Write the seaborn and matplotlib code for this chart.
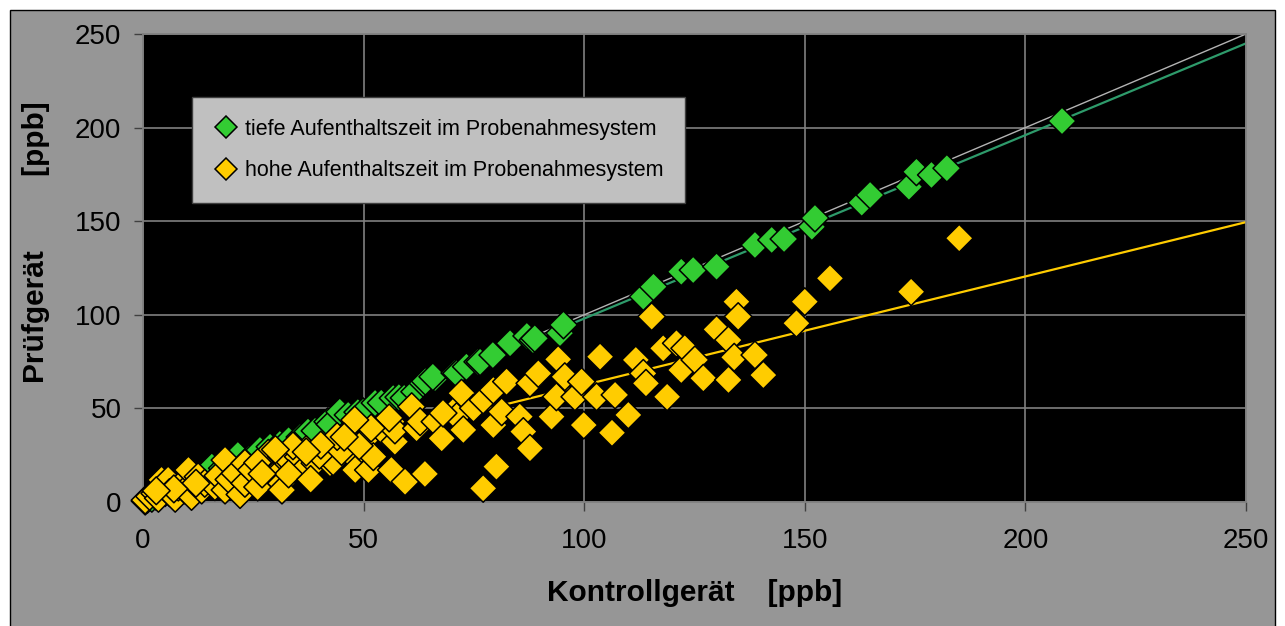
import numpy as np
import pandas as pd
import matplotlib
matplotlib.use("Agg")
import matplotlib.pyplot as plt
from matplotlib.patches import Rectangle
from matplotlib.lines import Line2D
import seaborn as sns

# Series names
low_label = "tiefe Aufenthaltszeit im Probenahmesystem"
high_label = "hohe Aufenthaltszeit im Probenahmesystem"

# Short residence time in the sampling system (reference vs. test device, ppb)
low_x = [0.5, 1, 2, 3, 4, 5, 6, 8, 10, 12, 14, 15.6, 18, 20, 21.5, 24, 26.5, 28.8, 31, 33,
         35.6, 37.4, 39, 41.9, 42.4, 44.6, 46.5, 48.7, 49.9, 52.6, 54, 56.7, 58, 59.2, 61.6,
         63.5, 64, 66.2, 65.7, 70.7, 71.1, 73.3, 75.9, 76.4, 79.3, 83.2, 87, 88.4, 88.8, 94.5,
         95.3, 113.4, 115.7, 122, 124.7, 130, 138.7, 142.5, 145.3, 151.6, 152.3, 162.9, 164.8,
         173.6, 175.3, 178.7, 182.2, 208.3]
low_y = [0.5, 1.5, 2, 3, 4.5, 5, 6.5, 8, 10, 12, 14.5, 18.9, 18, 21, 25.1, 23, 27.8, 29.5, 31, 33,
         34.7, 37.6, 38, 42.9, 41.5, 48.2, 46.5, 48, 48.2, 52.9, 53, 55.5, 56, 55.6, 58.9,
         63.5, 64.5, 66.2, 66.9, 68.9, 68.7, 72.3, 74.9, 74.9, 78.5, 84.8, 88.7, 86.5, 87.4, 90.2,
         94.6, 109.7, 115, 123, 123.9, 125.7, 137.3, 140, 140.5, 147, 151.7, 159.9, 164,
         168.4, 176.4, 174.7, 178.3, 203.5]

# Long residence time in the sampling system
high_x = [0.5, 1.5, 2.7, 3.5, 4.2, 5.7, 6, 7.3, 8, 9.5, 10.3, 11, 12.5, 13.3, 14, 16.3, 17, 18.6,
          18.6, 19.5, 20.9, 22, 23.1, 23.1, 24.6, 26, 27.7, 28.4, 29.9, 31.4, 31.4, 31.5, 32.9,
          35.2, 36.3, 39, 41.3, 42.4, 42.4, 43.1, 47.3, 47.7, 48.1, 50.7, 51.1, 52.2, 53.7, 54.8,
          56.3, 56.3, 57.1, 57.1, 59.4, 60.9, 62, 62.8, 63.9, 66.2, 67.7, 70.3, 71.1, 72.2, 72.6,
          74.9, 77.1, 77.1, 79.4, 79.4, 80.1, 81.3, 82.4, 85.4, 86.2, 87.7, 87.7, 89.6, 92.6,
          93.7, 94.1, 95.6, 97.9, 99.4, 99.9, 102.8, 103.6, 106.3, 107, 110, 111.7, 113.4, 114,
          115.3, 117.9, 118.8, 120.9, 122, 122.8, 125.1, 127, 130, 132.7, 132.7, 134, 134.5,
          134.9, 138.7, 140.6, 148.1, 150, 155.7, 174.1, 185,
          26, 33, 37, 40, 45, 44, 49, 38, 34, 30, 27, 12, 7, 3, 68, 55.8, 51.7, 48, 45.6, 40.3, 37]
high_y = [1, 3, 4.6, 2, 11.8, 11.8, 5, 2, 8, 6.4, 17.1, 3, 13.5, 6.4, 10, 8.2, 14, 6.4,
          22.4, 12, 15.3, 4, 10, 20.7, 17.1, 8, 18.2, 26, 13.5, 10, 24.2, 6.4, 22.4,
          24.2, 17.1, 20.7, 27.8, 20.8, 30.4, 21.5, 32.2, 24.2, 17.1, 34, 17.1, 24.2, 39.4, 36.7,
          42.9, 17.1, 32.2, 38.5, 10.8, 50.9, 39.4, 42.9, 15, 42.9, 34, 48.2, 45.6, 58.1, 38.5,
          50.1, 54.5, 7.3, 59.8, 41.1, 18.9, 48.2, 64.3, 45.6, 37.6, 28.7, 63.4, 68.7, 45.6,
          56.2, 76.2, 66.9, 56.2, 64.3, 41.1, 56.2, 77.6, 37, 57.2, 46.5, 75.9, 68.7, 63.4,
          99, 82.1, 56.2, 84.8, 70.5, 82.1, 75.9, 66.1, 92.2, 86.5, 65.2, 77.3, 107,
          99, 78.5, 67.8, 95.5, 107, 119.5, 112.3, 140.9,
          21, 15, 28, 25, 27, 35, 30, 12, 30, 28, 15, 10, 7, 6, 47.5, 44.9, 39.5, 43.8, 34.7, 30.4, 26.7]

# Linear trend lines (slope, intercept)
low_fit = (0.98, 0.0)
high_fit = (0.58, 4.5)

axis_ticks = [0, 50, 100, 150, 200, 250]
x_label = "Kontrollgerät    [ppb]"
y_label = "Prüfgerät         [ppb]"

green = "#33cc33"
yellow = "#ffcc00"

df = pd.DataFrame({
    "x": low_x + high_x,
    "y": low_y + high_y,
    "group": [low_label] * len(low_x) + [high_label] * len(high_x),
})

sns.set_theme(style="white")
plt.rcParams["font.family"] = ["Liberation Sans", "DejaVu Sans"]
plt.rcParams["text.color"] = "black"
plt.rcParams["axes.labelcolor"] = "black"

W, H = 1285, 626
fig = plt.figure(figsize=(W / 100, H / 100), dpi=100)
fig.patch.set_facecolor("white")
fig.patches.append(Rectangle((10 / W, -0.02), (1275 - 10) / W, 1 - 10 / H + 0.02,
                             transform=fig.transFigure, facecolor="#969696",
                             edgecolor="black", linewidth=1.0, zorder=-10))

ax = fig.add_axes([143 / W, 1 - 502 / H, (1246 - 143) / W, (502 - 34) / H])
ax.set_facecolor("black")

xs = np.array([0, 250])
ax.plot(xs, xs, color="#b4b4b4", lw=1.0, zorder=2)
ax.plot(xs, low_fit[0] * xs + low_fit[1], color="#2e9b6b", lw=1.6, zorder=2)
ax.plot(xs, high_fit[0] * xs + high_fit[1], color=yellow, lw=1.6, zorder=2)

sns.scatterplot(data=df, x="x", y="y", hue="group",
                palette={low_label: green, high_label: yellow},
                marker="D", s=200, edgecolor="black", linewidth=1.1,
                legend=False, ax=ax, zorder=3, clip_on=False)

ax.set_xlim(0, 250)
ax.set_ylim(0, 250)
ax.set_xticks(axis_ticks)
ax.set_yticks(axis_ticks)
ax.grid(True, color="#808080", lw=1.2)
ax.set_axisbelow(True)
for sp in ax.spines.values():
    sp.set_color("#808080")
    sp.set_linewidth(1.2)
ax.tick_params(axis="both", direction="out", length=6.5, width=1.0, color="#404040",
               labelsize=20, labelcolor="black", pad=9, bottom=True, left=True)
ax.tick_params(axis="x", pad=12)

ax.set_xlabel(x_label, fontsize=21.5, fontweight="bold", labelpad=18, color="black")
ax.set_ylabel(y_label, fontsize=21.5, fontweight="bold", labelpad=18, color="black")
ax.yaxis.set_label_coords(-0.084, 0.556)

handles = [
    Line2D([], [], marker="D", ls="", mfc=green, mec="black", mew=1.1, ms=11, label=low_label),
    Line2D([], [], marker="D", ls="", mfc=yellow, mec="black", mew=1.1, ms=11, label=high_label),
]
leg = ax.legend(handles=handles, loc="upper left", bbox_to_anchor=(0.0444, 0.865),
                borderaxespad=0, fontsize=15.5, frameon=True, fancybox=False,
                facecolor="#c0c0c0", edgecolor="#404040", framealpha=1,
                handletextpad=0.25, handlelength=1.2, labelspacing=0.95,
                borderpad=1.0)
leg.get_frame().set_linewidth(1.0)
for t in leg.get_texts():
    t.set_color("black")

fig.savefig("out.png", dpi=100, facecolor=fig.get_facecolor())
